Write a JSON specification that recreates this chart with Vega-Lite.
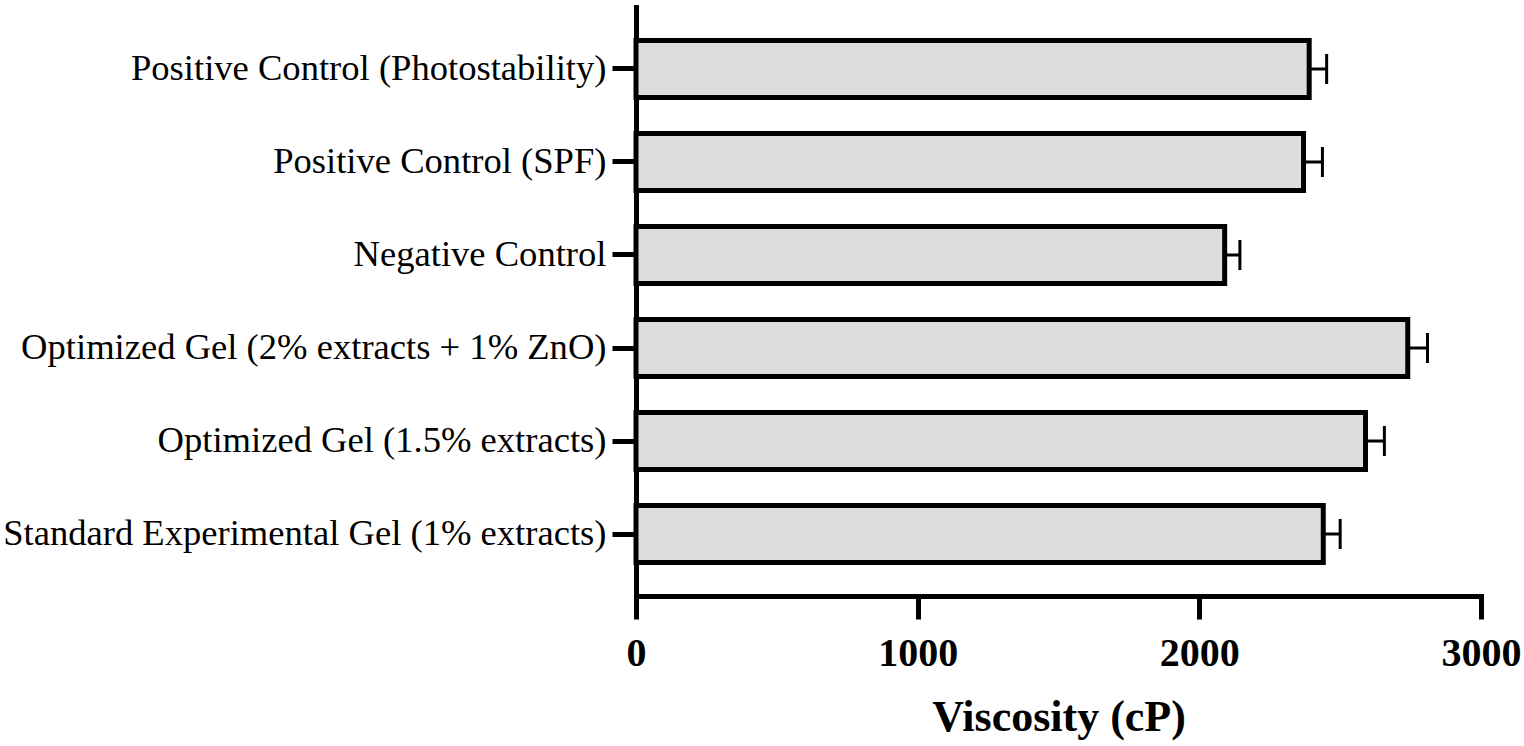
{
  "$schema": "https://vega.github.io/schema/vega-lite/v6.json",
  "autosize": {"type": "none"},
  "width": 845,
  "height": 589,
  "padding": {"left": 636, "top": 7, "right": 43, "bottom": 150},
  "background": "white",
  "config": {
    "view": {"stroke": null},
    "font": "Liberation Serif"
  },
  "data": {
    "values": [
      {"group": "Positive Control (Photostability)", "viscosity": 2390, "upper": 2452},
      {"group": "Positive Control (SPF)", "viscosity": 2370, "upper": 2437},
      {"group": "Negative Control", "viscosity": 2090, "upper": 2144},
      {"group": "Optimized Gel (2% extracts + 1% ZnO)", "viscosity": 2740, "upper": 2810},
      {"group": "Optimized Gel (1.5% extracts)", "viscosity": 2590, "upper": 2657},
      {"group": "Standard Experimental Gel (1% extracts)", "viscosity": 2440, "upper": 2500}
    ]
  },
  "encoding": {
    "y": {
      "field": "group",
      "type": "nominal",
      "sort": null,
      "scale": {"paddingInner": 0.387, "paddingOuter": 0.36},
      "axis": {
        "title": null,
        "labelFont": "Liberation Serif",
        "labelFontSize": 36.6,
        "labelColor": "black",
        "labelPadding": 6,
        "labelLimit": 1000,
        "tickSize": 24,
        "tickWidth": 5,
        "tickColor": "black",
        "domainWidth": 5,
        "domainColor": "black",
        "domainCap": "square"
      }
    }
  },
  "layer": [
    {
      "mark": {"type": "bar", "fill": "#dddddd", "stroke": "black", "strokeWidth": 5, "opacity": 1},
      "encoding": {
        "x": {
          "field": "viscosity",
          "type": "quantitative",
          "scale": {"domain": [0, 3000], "nice": false},
          "axis": {
            "title": "Viscosity (cP)",
            "titleFont": "Liberation Serif",
            "titleFontSize": 44,
            "titleFontWeight": "bold",
            "titleColor": "black",
            "titlePadding": 22,
            "values": [0, 1000, 2000, 3000],
            "format": "d",
            "labelFont": "Liberation Serif",
            "labelFontSize": 40,
            "labelFontWeight": "bold",
            "labelColor": "black",
            "labelPadding": 14,
            "labelFlush": false,
            "grid": false,
            "tickSize": 23,
            "tickWidth": 5,
            "tickColor": "black",
            "domainWidth": 5,
            "domainColor": "black",
            "domainCap": "square"
          }
        }
      }
    },
    {
      "mark": {"type": "rule", "color": "black", "strokeWidth": 3, "opacity": 1},
      "encoding": {
        "x": {"field": "viscosity", "type": "quantitative"},
        "x2": {"field": "upper"}
      }
    },
    {
      "mark": {"type": "tick", "color": "black", "thickness": 3, "size": 30, "opacity": 1},
      "encoding": {
        "x": {"field": "upper", "type": "quantitative"}
      }
    }
  ]
}
